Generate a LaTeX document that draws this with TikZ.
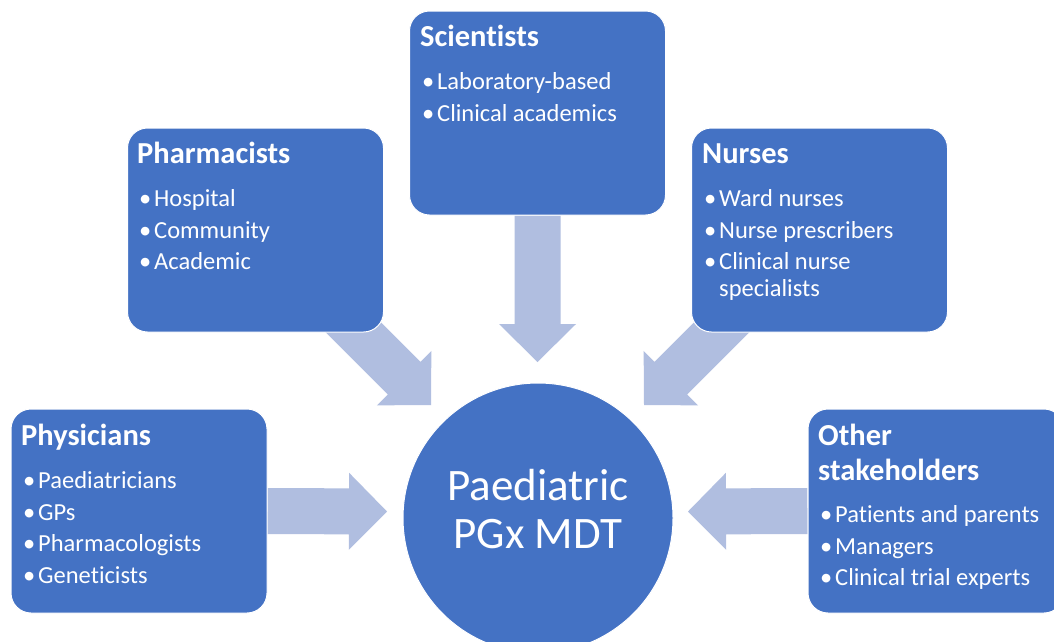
\documentclass[tikz,border=0pt]{standalone}
\usepackage{fontspec}
\setmainfont{Carlito}[Ligatures=NoCommon]
\usetikzlibrary{calc,backgrounds}
\definecolor{boxblue}{HTML}{4472C4}
\definecolor{arrowblue}{HTML}{B0BEE0}
\newcommand\tiNL{t\kern0pt i}
\tikzset{
  boxnode/.style={draw=white, line width=1pt, fill=boxblue, rounded corners=20pt,
    minimum width=256pt, minimum height=204pt, inner sep=0pt},
  hubnode/.style={circle, draw=white, line width=1pt, fill=boxblue, minimum size=270pt, inner sep=0pt},
  titletext/.style={anchor=base west, inner sep=0pt, text=white, font=\fontsize{30.5}{34}\selectfont\bfseries},
  itemtext/.style={anchor=base west, inner sep=0pt, text=white, font=\fontsize{24.5}{28}\selectfont},
  hubtext/.style={anchor=base, inner sep=0pt, text=white, font=\fontsize{45}{48}\selectfont},
  arrowfill/.style={fill=arrowblue, draw=none}
}
\newcommand\blockarrow[2]{%
  \fill[arrowfill] ($(#1)!23pt!90:(#2)$) -- ($($(#2)!38pt!(#1)$)!23pt!90:(#2)$)
    -- ($($(#2)!38pt!(#1)$)!38.5pt!90:(#2)$) -- (#2)
    -- ($($(#2)!38pt!(#1)$)!38.5pt!-90:(#2)$) -- ($($(#2)!38pt!(#1)$)!23pt!-90:(#2)$)
    -- ($(#1)!23pt!-90:(#2)$) -- cycle;}
\newcommand\bitem[4]{% name, x, y, text
  \node[itemtext] (#1b) at (#2,#3) {•};
  \node[itemtext] (#1) at ($(#2,#3)+(15,0)$) {#4};}
\begin{document}
\begin{tikzpicture}[x=1pt,y=-1pt]
\clip (0,0) rectangle (1054,641);

% boxes
\node[boxnode] (sci) at (537.5,113) {};
\node[boxnode] (pha) at (255.5,230) {};
\node[boxnode] (nur) at (819.5,230) {};
\node[boxnode] (phy) at (139,511) {};
\node[boxnode] (oth) at (936,511) {};
\node[hubnode] (hub) at (538,518) {};

% arrows (behind)
\coordinate (sciT) at (537.5,362);
\coordinate (phaS) at (332,306);
\coordinate (phaT) at (431,405);
\coordinate (nurS) at (743,306);
\coordinate (nurT) at (644,405);
\coordinate (phyT) at (387,511.5);
\coordinate (othT) at (688,511.5);
\begin{scope}[on background layer]
\fill[white] (0,0) rectangle (1054,641);
\blockarrow{sci.south}{sciT}
\blockarrow{phaS}{phaT}
\blockarrow{nurS}{nurT}
\blockarrow{phy.east}{phyT}
\blockarrow{oth.west}{othT}
\end{scope}

% Scientists
\node[titletext] (scit) at (420,46.5) {Scien\tiNL sts};
\bitem{sci1}{422}{89.5}{Laboratory-based}
\bitem{sci2}{422}{121}{Clinical academics}

% Pharmacists
\node[titletext] (phat) at (137,163.5) {Pharmacists};
\bitem{pha1}{139}{206.5}{Hospital}
\bitem{pha2}{139}{238}{Community}
\bitem{pha3}{139}{269.5}{Academic}

% Nurses
\node[titletext] (nurt) at (702,163.5) {Nurses};
\bitem{nur1}{704}{206.5}{Ward nurses}
\bitem{nur2}{704}{238}{Nurse prescribers}
\bitem{nur3}{704}{269.5}{Clinical nurse}
\node[itemtext] (nur3b2) at (719,296) {specialists};

% Physicians
\node[titletext] (phyt) at (21,445.5) {Physicians};
\bitem{phy1}{23}{488.5}{Paediatricians}
\bitem{phy2}{23}{520}{GPs}
\bitem{phy3}{23}{551.5}{Pharmacologists}
\bitem{phy4}{23}{583}{Gene\tiNL cists}

% Other stakeholders
\node[titletext] (otht1) at (818,445.5) {Other};
\node[titletext] (otht2) at (818,480) {stakeholders};
\bitem{oth1}{820}{522.5}{Pa\tiNL ents and parents}
\bitem{oth2}{820}{554}{Managers}
\bitem{oth3}{820}{585.5}{Clinical trial experts}

% hub text
\node[hubtext] (hub1) at (538,500) {Paediatric};
\node[hubtext] (hub2) at (538,548) {PGx MDT};
\end{tikzpicture}
\end{document}
